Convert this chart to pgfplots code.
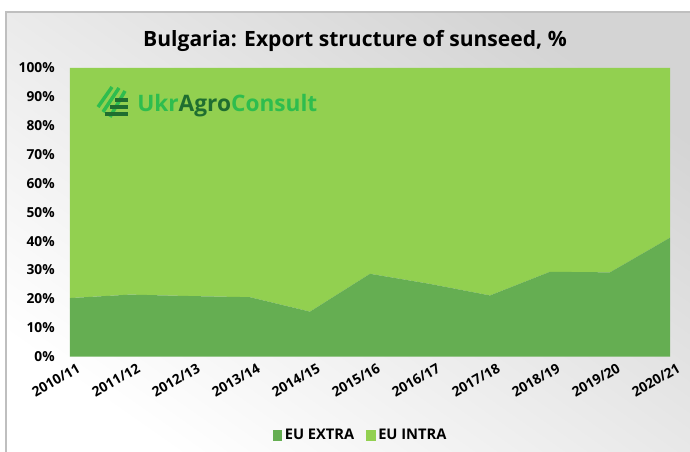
\documentclass[border=0pt]{standalone}
\usepackage{fontspec}
\setmainfont{Open Sans}
\usepackage{pgfplots}
\pgfplotsset{compat=1.18}
\definecolor{extra}{HTML}{65AE52}
\definecolor{intra}{HTML}{92D050}
\definecolor{logolight}{HTML}{2EBD4E}
\definecolor{logodark}{HTML}{1F6E30}
\definecolor{frame}{HTML}{BFBFBF}

\begin{document}
\begin{tikzpicture}
  \useasboundingbox (0,0) rectangle (517.5pt,339pt);
  \clip (0,0) rectangle (517.5pt,339pt);
  % background panel, coordinates in image pixels (y down)
  \begin{scope}[x=0.75pt,y=-0.75pt,shift={(0,339pt)}]
    \shade[shading=axis,top color=black!17,bottom color=white,shading angle=-35]
      (6,12) rectangle (710,470);
    \draw[frame,line width=0.8pt] (6,470) -- (6,12) -- (710,12);
    \node[font=\bfseries\fontsize{15.8}{18}\selectfont] at (355,41) {Bulgaria: Export structure of sunseed, \%};
  \end{scope}

  \begin{axis}[
    at={(52.5pt,71.5pt)}, anchor=south west,
    scale only axis, width=450pt, height=216.5pt,
    xmin=0, xmax=10, ymin=0, ymax=100,
    stack plots=y,
    axis line style={draw=none},
    major tick style={draw=none},
    xtick={0,...,10},
    xticklabels={2010/11,2011/12,2012/13,2013/14,2014/15,2015/16,2016/17,2017/18,2018/19,2019/20,2020/21},
    x tick label style={rotate=30,anchor=north east,font=\bfseries\fontsize{10.3}{12}\selectfont,inner sep=1pt,yshift=-5pt,xshift=3pt},
    ytick={0,10,...,100},
    yticklabel={\pgfmathprintnumber{\tick}\%},
    y tick label style={font=\bfseries\fontsize{10.3}{12}\selectfont,xshift=-8pt},
    /pgf/number format/assume math mode=true,
    legend style={at={(0.485,-0.272)},anchor=center,draw=none,fill=none,
      legend columns=2,font=\bfseries\fontsize{11}{13}\selectfont,
      /tikz/every even column/.append style={column sep=7pt}},
    legend image code/.code={\fill[#1] (0pt,-4pt) rectangle (7pt,4pt);},
  ]
    \addplot[fill=extra,draw=none] coordinates {
      (0,20.3) (1,21.5) (2,21.0) (3,20.6) (4,15.6) (5,28.7) (6,25.2) (7,21.2) (8,29.4) (9,29.2) (10,41.2)
    } \closedcycle;
    \addlegendentry{EU EXTRA}
    \addplot[fill=intra,draw=none] coordinates {
      (0,79.7) (1,78.5) (2,79.0) (3,79.4) (4,84.4) (5,71.3) (6,74.8) (7,78.8) (8,70.6) (9,70.8) (10,58.8)
    } \closedcycle;
    \addlegendentry{EU INTRA}
  \end{axis}

  % logo
  \begin{scope}[x=0.75pt,y=-0.75pt,shift={(0,339pt)}]
    \draw[logolight,line width=2.6pt] (98,107) -- (112,87);
    \draw[logolight,line width=2.6pt] (103,112) -- (119,88);
    \draw[logolight,line width=2.6pt] (110,117) -- (125,91);
    \fill[logodark] (115,98.3) rectangle (128,101.7);
    \fill[logodark] (110,105.3) rectangle (128,108.7);
    \fill[logodark] (105,112.3) rectangle (128,115.7);
    \node[anchor=base west,inner sep=0pt,font=\bfseries\fontsize{17}{20}\selectfont] at (137,112)
      {\textcolor{logolight}{Ukr}\textcolor{logodark}{Agro}\textcolor{logolight}{Consult}};
  \end{scope}
\end{tikzpicture}
\end{document}
